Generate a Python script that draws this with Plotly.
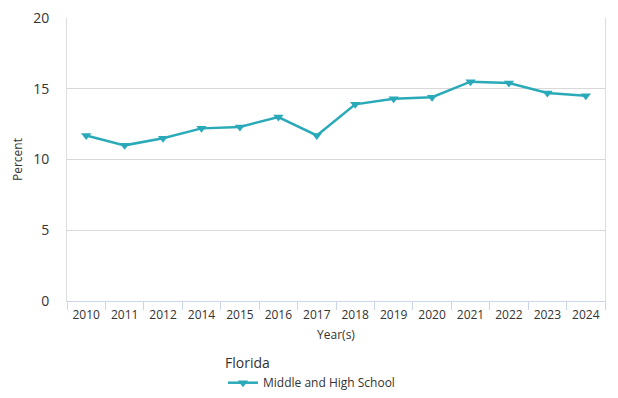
import plotly.graph_objects as go

years = ["2010", "2011", "2012", "2014", "2015", "2016", "2017", "2018",
         "2019", "2020", "2021", "2022", "2023", "2024"]
values = [11.7, 11.0, 11.5, 12.2, 12.3, 13.0, 11.7, 13.9, 14.3, 14.4, 15.5, 15.4, 14.7, 14.5]
series_name = "Middle and High School"
legend_title = "Florida"
y_ticks = [0, 5, 10, 15, 20]

fig = go.Figure()
fig.add_trace(go.Scatter(
    x=years, y=values, name=series_name, mode="lines+markers",
    line=dict(color="#2AAAB8", width=2.5),
    marker=dict(symbol="triangle-down", size=9, color="#2AAAB8"),
    showlegend=True,
))

font_family = "Open Sans, Noto Sans, sans-serif"
fig.update_layout(
    width=618, height=398,
    margin=dict(l=67, r=13, t=18, b=97),
    paper_bgcolor="white", plot_bgcolor="white",
    font=dict(family=font_family, color="#333333", size=12),
    xaxis=dict(
        type="category", tickson="boundaries", ticks="outside", ticklen=8,
        tickcolor="#ccd6eb", showline=True, linecolor="#ccd6eb", linewidth=1,
        showgrid=False, tickfont=dict(size=12, color="#333333"),
        ticklabelstandoff=3,
        range=[-0.5, len(years) - 0.5], automargin=False,
        title=dict(text="Year(s)", font=dict(size=12, color="#333333"), standoff=8),
    ),
    yaxis=dict(
        range=[0, 20], tickvals=y_ticks, showgrid=True, gridcolor="#d8d8d8",
        gridwidth=1, zeroline=False, showline=True, linecolor="#dddddd",
        linewidth=1, mirror=True, ticks="", tickfont=dict(size=14, color="#333333"),
        ticklabelstandoff=14, automargin=False,
        title=dict(text="Percent", font=dict(size=12, color="#333333"), standoff=7),
    ),
    legend=dict(
        orientation="h", xref="container", yref="container",
        x=223 / 618, xanchor="left", y=1 - 350 / 398, yanchor="top",
        title=dict(text=legend_title, side="top", font=dict(size=14, color="#333333")),
        font=dict(size=12, color="#333333"),
    ),
)
fig.write_html("out.html", config={"displayModeBar": False})

with open("out.html", "r", encoding="utf-8") as f:
    html = f.read()
html = html.replace("<body>", '<body style="margin:0;padding:0;overflow:hidden">', 1)
html = html.replace("<head>", "<head><style>html,body{margin:0;padding:0;}</style>", 1)
with open("out.html", "w", encoding="utf-8") as f:
    f.write(html)
